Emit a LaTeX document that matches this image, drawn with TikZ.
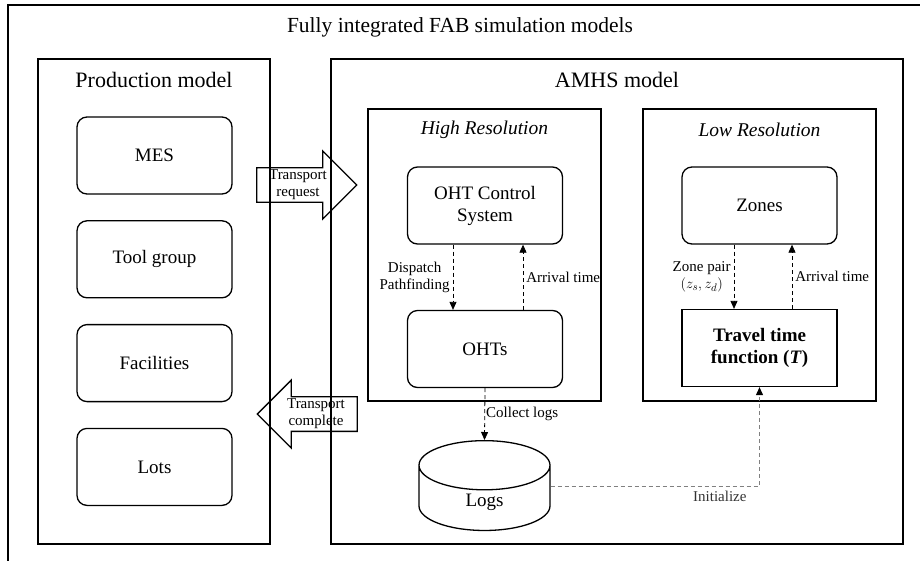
\documentclass[tikz,border=0pt]{standalone}
\usepackage{fontspec}
\setmainfont{Liberation Serif}
\usepackage{amsmath}
\usetikzlibrary{arrows.meta,shapes.geometric,shapes.arrows}

\begin{document}
\begin{tikzpicture}[x=1pt,y=-1pt,>={Triangle[length=8pt,width=7pt]},node distance=103.8pt,
                    line width=1.3pt]
          \tikzstyle{box}=[draw,rounded corners=10pt,minimum width=155pt,minimum height=77pt,
                           inner sep=0pt,align=center,font=\fontsize{19}{22}\selectfont]
          \tikzstyle{title}=[font=\fontsize{21.5}{24}\selectfont]
          \tikzstyle{res}=[font=\fontsize{19.5}{22}\selectfont\itshape]
          \tikzstyle{lbl}=[font=\fontsize{15}{17}\selectfont,align=center,inner sep=3pt]
          \tikzstyle{flow}=[->,dash pattern=on 4pt off 3pt,line width=0.8pt]
          \tikzstyle{bigarrow}=[draw,single arrow,single arrow head extend=16pt,
                                minimum width=68pt,minimum height=100pt,inner sep=1pt,
                                font=\fontsize{15}{17}\selectfont,align=center]
          \tikzstyle{store}=[draw,cylinder,shape border rotate=90,aspect=1.1,
                             minimum width=131pt,minimum height=88pt,
                             font=\fontsize{19}{22}\selectfont]

          \useasboundingbox (0,0) rectangle (920,560);
          \draw (8,5) rectangle (925,565);
          \draw (38,59) rectangle (270,544);
          \draw (331,59) rectangle (903,544);
          \draw (368,109) rectangle (601,401);
          \draw (643,109) rectangle (876,401);

          \node[title] (fab)  at (460,27)  {Fully integrated FAB simulation models};
          \node[title,font=\fontsize{22}{24}\selectfont] (prod) at (154,80) {Production model};
          \node[title,font=\fontsize{22}{24}\selectfont] (amhs) at (617,80) {AMHS model};
          \node[res]   (high) at (484.5,130) {High Resolution};
          \node[res]   (low)  at (759.5,130) {Low Resolution};

          \node[box] (mes)  at (154.5,155.5) {MES};
          \node[box] (tool) [below of=mes]   {Tool group};
          \node[box] (fac)  [below of=tool]  {Facilities};
          \node[box] (lots) [below of=fac]   {Lots};

          \node[box] (ctrl) at (485,205.5)   {OHT Control\\System};
          \node[box] (oht)  [below of=ctrl,node distance=143.5pt] {OHTs};
          \node[box] (zones) at (759.5,205.5) {Zones};
          \node[box,rounded corners=0pt] (travel) [below of=zones,node distance=142.5pt]
                {\textbf{Travel time}\\\textbf{function (\textit{T})}};

          \node[store,anchor=top] (logs) at (484.5,440) {Logs};

          \node[bigarrow] (req)  at (298,185) {Transport\\request};
          \node[bigarrow,shape border rotate=180] (done) at (316,414) {Transport\\complete};

          \draw[flow] ([xshift=-32pt]ctrl.south) -- node[lbl,left] {Dispatch\\Pathfinding}
                      ([xshift=-32pt]oht.north);
          \draw[flow] ([xshift=38pt]oht.north) -- node[lbl,right] {Arrival time}
                      ([xshift=38pt]ctrl.south);
          \draw[flow] ([xshift=-25.5pt]zones.south) -- node[lbl,left] {Zone pair\\$(z_s,z_d)$}
                      ([xshift=-25.5pt]travel.north);
          \draw[flow] ([xshift=32.5pt]travel.north) -- node[lbl,right] {Arrival time}
                      ([xshift=32.5pt]zones.south);
          \draw[flow] (oht.south) -- node[lbl,right,inner sep=1pt] {Collect logs} (logs.top);
          \draw[flow,draw=gray,line width=1pt,-{Triangle[length=8pt,width=7pt,color=black]}]
                      ([yshift=16pt]logs.east) -| node[lbl,pos=0.405,below,inner sep=5pt,text=black!80] {Initialize}
                      (travel.south);
\end{tikzpicture}
\end{document}
